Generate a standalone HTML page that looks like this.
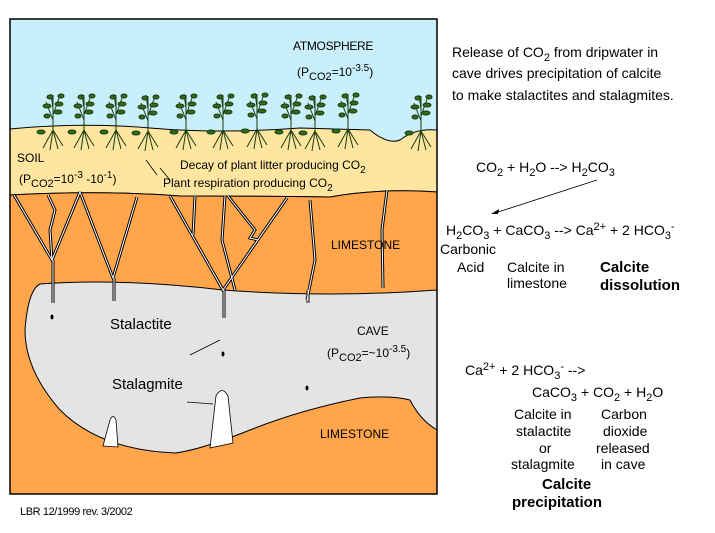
<!DOCTYPE html>
<html><head><meta charset="utf-8"><style>
body{margin:0;background:#fff;width:715px;height:533px;overflow:hidden;font-family:"Liberation Sans",sans-serif}
svg{position:absolute;left:0;top:0}
text{font-family:"Liberation Sans",sans-serif;fill:#000}
</style></head><body>
<svg width="715" height="533" viewBox="0 0 715 533">
<defs>
<g id="pl"><path d="M0,0 L0,-35 M0,-10 L-7,-28 M0,-15 L6,-32 M0,-22 L-2,-36 M0,0 L-10,18 M0,0 L-3,20 M0,0 L5,19 M0,0 L10,16" fill="none"/>
<ellipse cx="-6" cy="-24" rx="4" ry="2"/><ellipse cx="6" cy="-26" rx="4" ry="2"/><ellipse cx="-3" cy="-33" rx="3" ry="2"/><ellipse cx="5" cy="-18" rx="4" ry="2"/><ellipse cx="-12" cy="2" rx="4" ry="2"/><ellipse cx="-6" cy="-14" rx="3" ry="2"/><ellipse cx="8" cy="-34" rx="3" ry="2"/></g>
<g id="cr"><path d="M14,195 L52,260 L80,192"/><path d="M48,195 L55,210 L50,230 L52,260"/>
<path d="M80,192 L113,278 L137,197"/>
<path d="M170,196 L223,290 L287,198"/><path d="M195,196 L193,235"/><path d="M225,196 L222,240 L235,290"/><path d="M228,196 L243,215 L255,230 L250,238 L258,240"/>
<path d="M310,200 L315,260 L307,300"/><path d="M387,190 L382,230 L383,288"/>
<path d="M53,260 L53,303 M114,278 L114,301 M224,290 L224,318 M308,290 L308,303"/></g>
</defs>
<rect x="10" y="19" width="427" height="475" fill="#c9f0fa"/>
<path d="M10,129 Q80,122 150,128 T300,128 L370,130 Q388,145 400,140 Q415,128 437,130 L437,192 Q380,188 330,197 Q250,196 180,196 Q100,190 10,195 Z" fill="#fee6a1" stroke="#000" stroke-width="1"/>
<path d="M10,195 Q100,190 180,196 Q250,196 330,197 Q380,188 437,192 L437,494 L10,494 Z" fill="#ffa64d" stroke="#000" stroke-width="1"/>
<path d="M40,284 Q120,278 223,290 Q330,298 437,290 L437,430 Q420,420 410,400 Q390,395 360,398 Q300,410 250,430 Q200,450 175,453 Q100,450 60,410 Q25,370 25,330 Q28,290 40,284 Z" fill="#e4e4e4" stroke="#000" stroke-width="1"/>
<path d="M103,446 L110,420 Q113,413 116,420 L118,447 Z" fill="#fff" stroke="#000" stroke-width="0.8"/>
<path d="M210,448 L216,396 Q222,385 228,396 L233,443 Z" fill="#fff" stroke="#000" stroke-width="0.8"/>
<g fill="none">
<use href="#cr" stroke="#000" stroke-width="3"/>
<use href="#cr" stroke="#fff" stroke-width="1"/>
<path d="M190,355 L220,340 M187,402 L213,404 M170,180 L160,168 M157,175 L146,160" stroke="#000" stroke-width="0.8"/>
</g>
<g fill="#000"><ellipse cx="52" cy="317" rx="1.5" ry="2.5"/><ellipse cx="223" cy="354" rx="1.5" ry="2.5"/><ellipse cx="307" cy="388" rx="1.5" ry="2.5"/></g>
<g stroke="#1a3d10" stroke-width="1" fill="#2f6b1e">
<use href="#pl" transform="translate(53,130)"/>
<use href="#pl" transform="translate(84,130)"/><use href="#pl" transform="translate(116,130)"/>
<use href="#pl" transform="translate(148,131)"/><use href="#pl" transform="translate(186,130)"/>
<use href="#pl" transform="translate(223,130)"/><use href="#pl" transform="translate(257,129)"/>
<use href="#pl" transform="translate(291,130)"/><use href="#pl" transform="translate(315,131)"/>
<use href="#pl" transform="translate(348,129)"/><use href="#pl" transform="translate(421,131)"/>
</g>
<rect x="10" y="19" width="427" height="475" fill="none" stroke="#000" stroke-width="1.5"/>
<g font-size="12">
<text x="293" y="50" letter-spacing="-0.3">ATMOSPHERE</text>
<text x="297" y="76">(P<tspan font-size="11" dy="4">CO2</tspan><tspan dy="-4">=10</tspan><tspan font-size="10" dy="-5">-3.5</tspan><tspan dy="5">)</tspan></text>
<text x="17" y="162">SOIL</text>
<text x="19" y="183">(P<tspan font-size="11" dy="4">CO2</tspan><tspan dy="-4">=10</tspan><tspan font-size="10" dy="-5">-3</tspan><tspan dy="5"> -10</tspan><tspan font-size="10" dy="-5">-1</tspan><tspan dy="5">)</tspan></text>
<text x="180" y="169">Decay of plant litter producing CO<tspan font-size="10" dy="4">2</tspan></text>
<text x="163" y="187">Plant respiration producing CO<tspan font-size="10" dy="4">2</tspan></text>
<text x="331" y="249">LIMESTONE</text>
<text x="357" y="335">CAVE</text>
<text x="327" y="357">(P<tspan font-size="11" dy="4">CO2</tspan><tspan dy="-4">=~10</tspan><tspan font-size="10" dy="-5">-3.5</tspan><tspan dy="5">)</tspan></text>
<text x="320" y="438">LIMESTONE</text>
<text x="110" y="329" font-size="15">Stalactite</text>
<text x="112" y="389" font-size="15">Stalagmite</text>
<text x="20" y="515" font-size="11" letter-spacing="-0.4">LBR 12/1999 rev. 3/2002</text>
</g>
<g font-size="14">
<text x="452" y="57">Release of CO<tspan font-size="11" dy="4">2</tspan><tspan dy="-4"> from dripwater in</tspan></text>
<text x="452" y="78">cave drives precipitation of calcite</text>
<text x="452" y="100">to make stalactites and stalagmites.</text>
<text x="476" y="172">CO<tspan font-size="11" dy="4">2</tspan><tspan dy="-4"> + H</tspan><tspan font-size="11" dy="4">2</tspan><tspan dy="-4">O --&gt; H</tspan><tspan font-size="11" dy="4">2</tspan><tspan dy="-4">CO</tspan><tspan font-size="11" dy="4">3</tspan></text>
<line x1="597" y1="180" x2="495" y2="213" stroke="#000" stroke-width="0.8"/>
<path d="M491,214 L499,209 L498,214 Z" fill="#000"/>
<text x="446" y="235">H<tspan font-size="11" dy="4">2</tspan><tspan dy="-4">CO</tspan><tspan font-size="11" dy="4">3</tspan><tspan dy="-4"> + CaCO</tspan><tspan font-size="11" dy="4">3</tspan><tspan dy="-4"> --&gt; Ca</tspan><tspan font-size="11" dy="-5">2+</tspan><tspan dy="5"> + 2 HCO</tspan><tspan font-size="11" dy="4">3</tspan><tspan font-size="11" dy="-9">-</tspan></text>
<text x="440" y="254">Carbonic</text>
<text x="457" y="272">Acid</text>
<text x="507" y="272">Calcite in</text>
<text x="507" y="288">limestone</text>
<text x="600" y="272" font-weight="bold" font-size="15">Calcite</text>
<text x="600" y="290" font-weight="bold" font-size="15">dissolution</text>
<text x="465" y="375">Ca<tspan font-size="11" dy="-5">2+</tspan><tspan dy="5"> + 2 HCO</tspan><tspan font-size="11" dy="4">3</tspan><tspan font-size="11" dy="-9">-</tspan><tspan dy="5"> --&gt;</tspan></text>
<text x="532" y="397">CaCO<tspan font-size="11" dy="4">3</tspan><tspan dy="-4"> + CO</tspan><tspan font-size="11" dy="4">2</tspan><tspan dy="-4"> + H</tspan><tspan font-size="11" dy="4">2</tspan><tspan dy="-4">O</tspan></text>
<text x="514" y="419">Calcite in</text>
<text x="516" y="436">stalactite</text>
<text x="539" y="453">or</text>
<text x="511" y="469">stalagmite</text>
<text x="601" y="419">Carbon</text>
<text x="603" y="436">dioxide</text>
<text x="596" y="453">released</text>
<text x="601" y="469">in cave</text>
<text x="542" y="489" font-weight="bold" font-size="15">Calcite</text>
<text x="512" y="507" font-weight="bold" font-size="15">precipitation</text>
</g>
</svg>
</body></html>
